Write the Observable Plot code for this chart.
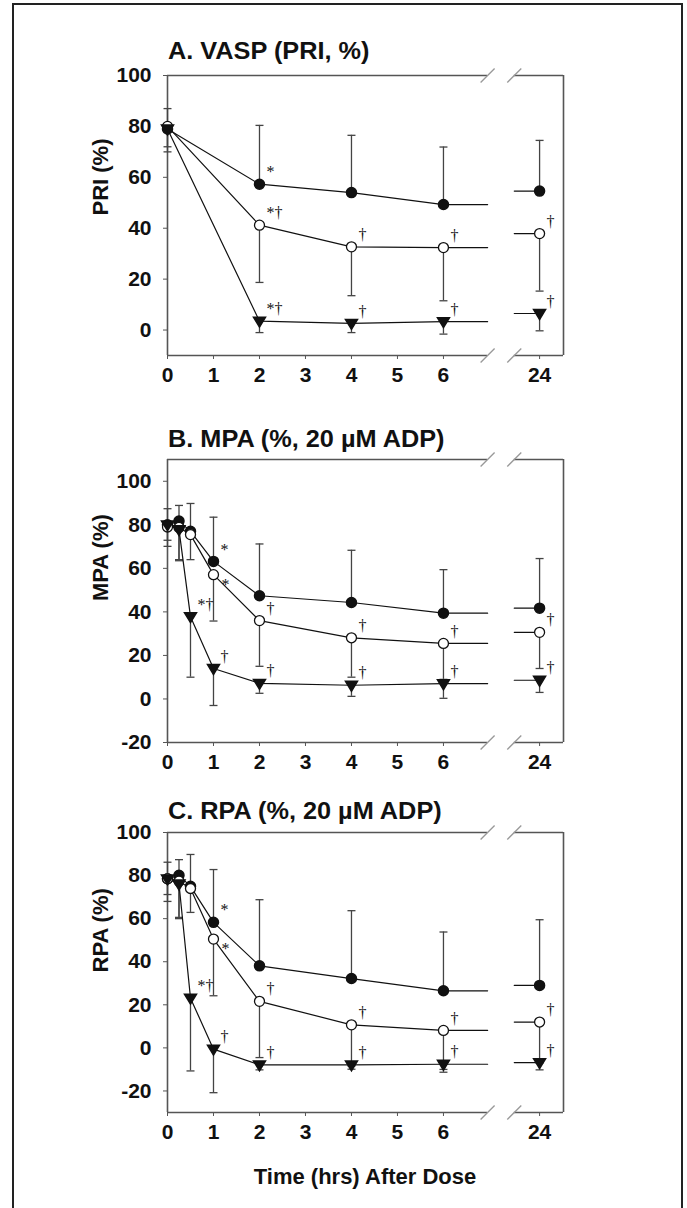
<!DOCTYPE html>
<html><head><meta charset="utf-8">
<script src="https://cdn.jsdelivr.net/npm/d3@7"></script>
<script src="https://cdn.jsdelivr.net/npm/@observablehq/plot@0.6"></script>
<style>
body{margin:0;background:#fff;}
#wrap{position:relative;width:687px;height:1208px;overflow:hidden;font-family:"Liberation Sans",Arial,sans-serif;color:#111;}
#border{position:absolute;left:12px;top:3px;width:671px;height:1230px;border:2px solid #222;box-sizing:border-box;}
.ptitle{position:absolute;left:168px;font-weight:bold;font-size:23px;line-height:23px;white-space:nowrap;transform:scaleX(1.1);transform-origin:left center;}
.panel{position:absolute;left:0;}
#xlabel{position:absolute;left:0;width:730px;top:1166px;text-align:center;font-weight:bold;font-size:22px;line-height:22px;}
</style></head>
<body>
<div id="wrap">
<div id="border"></div>
<div class="ptitle" style="top:40px">A. VASP (PRI, %)</div>
<div class="ptitle" style="top:428px">B. MPA (%, 20 µM ADP)</div>
<div class="ptitle" style="top:800px">C. RPA (%, 20 µM ADP)</div>
<div id="pA" class="panel" style="top:55px"></div>
<div id="pB" class="panel" style="top:439px"></div>
<div id="pC" class="panel" style="top:812px"></div>
<div id="xlabel">Time (hrs) After Dose</div>
</div>
<script>
// ---------- data ----------
const xTickHours = [0, 1, 2, 3, 4, 5, 6, 24];
const xTickLabels = ["0", "1", "2", "3", "4", "5", "6", "24"];

// Panel A: VASP PRI (%)
const hoursA = [0, 2, 4, 6, 24];
const yTicksA = [0, 20, 40, 60, 80, 100];
const filledA = [79, 57.3, 54, 49.3, 54.6];
const filledEndA = [87, 80.4, 76.5, 71.9, 74.5];
const openA = [80, 41.2, 32.7, 32.4, 37.9];
const openEndA = [72, 18.7, 13.5, 11.5, 15.3];
const triA = [79, 3.5, 2.6, 3.3, 6.5];
const triEndA = [70, -1, -1, -1.6, -0.3];
const filledNoteA = ["", "*", "", "", ""];
const openNoteA = ["", "*†", "†", "†", "†"];
const triNoteA = ["", "*†", "†", "†", "†"];

// Panel B: MPA (%)
const hoursB = [0, 0.25, 0.5, 1, 2, 4, 6, 24];
const yTicksB = [-20, 0, 20, 40, 60, 80, 100];
const filledB = [80, 81.7, 77, 63.2, 47.4, 44.3, 39.4, 41.7];
const filledEndB = [87.4, 88.9, 89.8, 83.5, 71.2, 68.3, 59.4, 64.5];
const openB = [79, 78.8, 75.5, 57.1, 36, 28.1, 25.5, 30.6];
const openEndB = [72.9, 64, 64, 35.8, 15, 10, 9, 14];
const triB = [80, 77.8, 37.8, 14, 7.2, 6.3, 7, 8.6];
const triEndB = [70.1, 63.5, 10, -3, 2.6, 1.2, 0.3, 3];
const filledNoteB = ["", "", "", "*", "", "", "", ""];
const openNoteB = ["", "", "", "*", "†", "†", "†", "†"];
const triNoteB = ["", "", "*†", "†", "†", "†", "†", "†"];

// Panel C: RPA (%)
const hoursC = [0, 0.25, 0.5, 1, 2, 4, 6, 24];
const yTicksC = [-20, 0, 20, 40, 60, 80, 100];
const filledC = [78.5, 80.1, 75, 58.3, 38.1, 32.2, 26.5, 29];
const filledEndC = [86.2, 87.4, 89.8, 82.8, 68.8, 63.7, 53.8, 59.5];
const openC = [78.5, 77.4, 74, 50.5, 21.6, 10.7, 8.1, 12];
const openEndC = [71.2, 60.6, 62.9, 24.2, -4.5, -8.4, -10, -7];
const triC = [78.5, 76.1, 23.1, -0.6, -7.9, -7.9, -7.6, -6.8];
const triEndC = [68, 60, -10.7, -20.8, -10.2, -9.9, -11.3, -10.2];
const filledNoteC = ["", "", "", "*", "", "", "", ""];
const openNoteC = ["", "", "", "*", "†", "†", "†", "†"];
const triNoteC = ["", "", "*†", "†", "†", "†", "†", "†"];

// ---------- broken time axis ----------
const breakL = 6.96, breakR = 7.54, x24 = 8.09, xMax = 8.61;
const pos = h => (h <= 7 ? h : x24 + (h - 24));
const xTickPos = xTickHours.map(pos);

// ---------- symbols ----------
const triDown = {draw(ctx, size) {const r = Math.sqrt(size / Math.PI); ctx.moveTo(-r, -0.65 * r); ctx.lineTo(r, -0.65 * r); ctx.lineTo(0, r); ctx.closePath();}};
const cap = {draw(ctx, size) {const r = Math.sqrt(size / Math.PI); ctx.moveTo(-r, 0); ctx.lineTo(r, 0);}};
const slash = {draw(ctx, size) {const r = Math.sqrt(size / Math.PI); ctx.moveTo(-r, r); ctx.lineTo(r, -r);}};

function panel(el, {hours, series, yDomain, yTicks, yLabel, height}) {
  const pts = [];
  series.forEach(s => hours.forEach((h, i) => pts.push({kind: s.kind, x: pos(h), v: s.values[i], end: s.ends[i], note: s.notes[i]})));
  const lineMarks = [];
  series.forEach(s => {
    const early = hours.map((h, i) => ({x: pos(h), v: s.values[i], h})).filter(d => d.h <= 6);
    const last6 = early[early.length - 1].v;
    const v24 = s.values[hours.indexOf(24)];
    lineMarks.push(Plot.line([...early, {x: breakL, v: last6}], {x: "x", y: "v", stroke: "#111", strokeWidth: 1.2}));
    lineMarks.push(Plot.line([{x: breakR, v: v24}, {x: x24, v: v24}], {x: "x", y: "v", stroke: "#111", strokeWidth: 1.2}));
  });
  // an open-circle "*" alone sits to the lower right of its point, the rest above right
  const notesUp = pts.filter(d => d.note && !(d.kind === "open" && d.note === "*"));
  const notesDown = pts.filter(d => d.kind === "open" && d.note === "*");
  const [y0, y1] = yDomain;
  const frameStroke = "#555";
  const noteStyle = {x: "x", y: "v", text: "note", textAnchor: "start", fontSize: 16, fontWeight: "normal", fontFamily: "'Liberation Serif', serif", fill: "#111"};
  const chart = Plot.plot({
    width: 687, height, marginLeft: 167, marginRight: 124, marginTop: 20, marginBottom: 45,
    x: {domain: [0, xMax]},
    y: {domain: yDomain},
    style: {fontFamily: "'Liberation Sans', Arial, sans-serif", fontSize: "21px", fontWeight: "bold", color: "#111", background: "transparent", overflow: "visible"},
    marks: [
      Plot.axisX({ticks: xTickPos, tickFormat: d => xTickLabels[xTickPos.findIndex(p => Math.abs(p - d) < 1e-6)], tickSize: 4, tickPadding: 8, label: null, stroke: frameStroke}),
      Plot.axisY({ticks: yTicks, tickFormat: d => String(d), tickSize: 4, tickPadding: 12, label: null, stroke: frameStroke}),
      Plot.text([yLabel], {frameAnchor: "left", dx: -67, rotate: -90, fontSize: 22, fontWeight: "bold", fill: "#111"}),
      Plot.ruleX([0], {stroke: frameStroke, strokeWidth: 1.6}),
      Plot.ruleX([xMax], {stroke: frameStroke, strokeWidth: 1.6}),
      Plot.ruleY([y0, y1], {x1: 0, x2: breakL, stroke: frameStroke, strokeWidth: 1.6}),
      Plot.ruleY([y0, y1], {x1: breakR, x2: xMax, stroke: frameStroke, strokeWidth: 1.6}),
      Plot.dot([[breakL, y0], [breakR, y0], [breakL, y1], [breakR, y1]], {x: d => d[0], y: d => d[1], symbol: slash, r: 7, stroke: "#999", strokeWidth: 1.3}),
      Plot.ruleX(pts, {x: "x", y1: "v", y2: "end", stroke: "#444", strokeWidth: 1.3}),
      Plot.dot(pts, {x: "x", y: "end", symbol: cap, r: 4, stroke: "#444", strokeWidth: 1.3}),
      ...lineMarks,
      Plot.dot(pts.filter(d => d.kind === "filled"), {x: "x", y: "v", r: 5, fill: "#111", stroke: "#111"}),
      Plot.dot(pts.filter(d => d.kind === "open"), {x: "x", y: "v", r: 5, fill: "white", stroke: "#111", strokeWidth: 1.3}),
      Plot.dot(pts.filter(d => d.kind === "tri"), {x: "x", y: "v", r: 6, symbol: triDown, fill: "#111", stroke: "#111"}),
      Plot.text(notesUp, {...noteStyle, dx: 7, dy: -12}),
      Plot.text(notesDown, {...noteStyle, dx: 8, dy: 10})
    ]
  });
  document.getElementById(el).appendChild(chart);
}

panel("pA", {hours: hoursA, yDomain: [-10, 100], yTicks: yTicksA, yLabel: "PRI (%)", height: 345,
  series: [
    {kind: "filled", values: filledA, ends: filledEndA, notes: filledNoteA},
    {kind: "open", values: openA, ends: openEndA, notes: openNoteA},
    {kind: "tri", values: triA, ends: triEndA, notes: triNoteA}]});
panel("pB", {hours: hoursB, yDomain: [-20, 110], yTicks: yTicksB, yLabel: "MPA (%)", height: 348,
  series: [
    {kind: "filled", values: filledB, ends: filledEndB, notes: filledNoteB},
    {kind: "open", values: openB, ends: openEndB, notes: openNoteB},
    {kind: "tri", values: triB, ends: triEndB, notes: triNoteB}]});
panel("pC", {hours: hoursC, yDomain: [-30, 100], yTicks: yTicksC, yLabel: "RPA (%)", height: 345,
  series: [
    {kind: "filled", values: filledC, ends: filledEndC, notes: filledNoteC},
    {kind: "open", values: openC, ends: openEndC, notes: openNoteC},
    {kind: "tri", values: triC, ends: triEndC, notes: triNoteC}]});
</script>
</body></html>
